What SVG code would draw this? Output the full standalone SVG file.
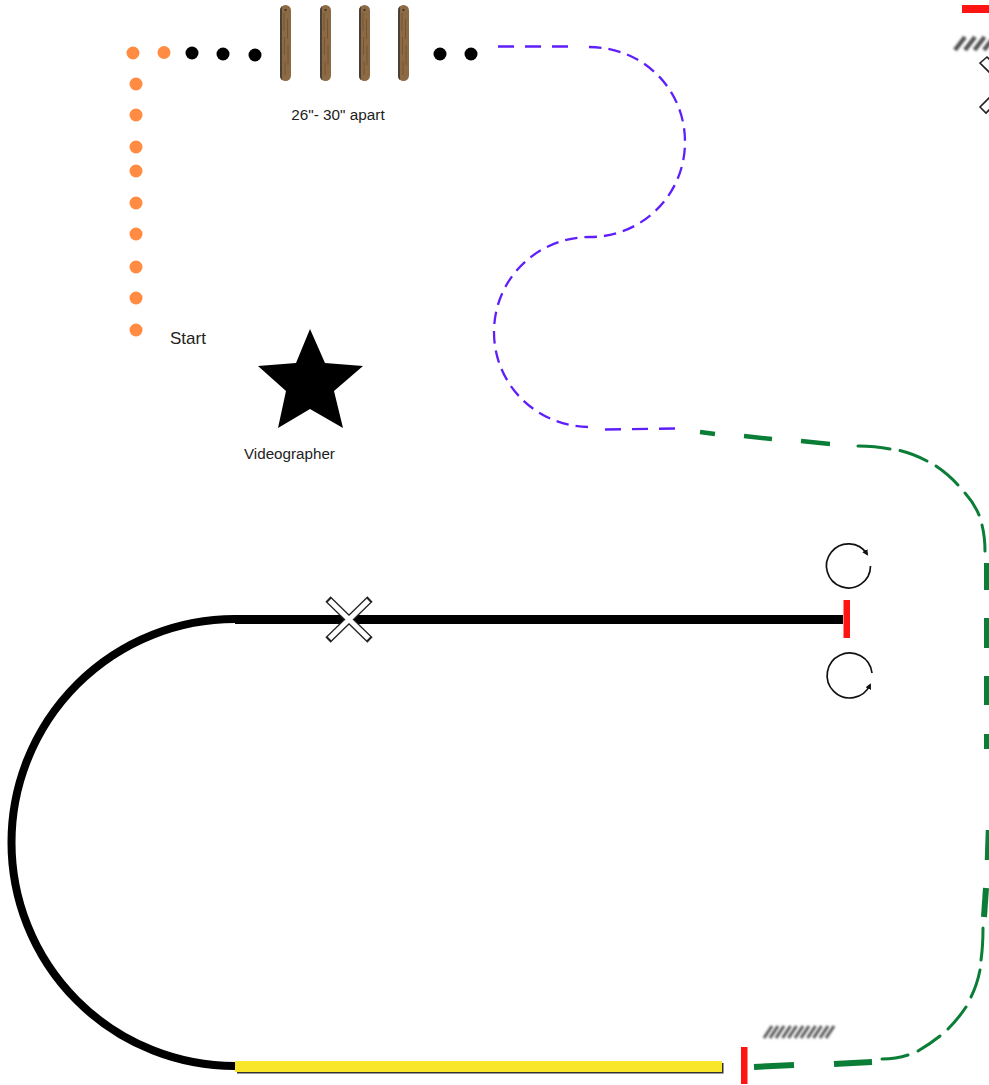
<svg xmlns="http://www.w3.org/2000/svg" width="989" height="1085" viewBox="0 0 989 1085">
<style>
.o{fill:#ff8c42}
.k{fill:#000}
.t{font-family:"Liberation Sans",Arial,sans-serif;fill:#222}
.pl{fill:none;stroke:#5f1ffa;stroke-width:2.300}
.g3{fill:none;stroke:#0a7d36;stroke-width:3;stroke-linecap:round}
.g4{fill:none;stroke:#0a7d36;stroke-width:4.500}
.g6{fill:none;stroke:#0a7d36;stroke-width:6}
.red{fill:#ff1414}
.hatch{stroke:#555;fill:none;filter:url(#soft)}
.rot{fill:none;stroke:#111;stroke-width:1.700}
.xo{stroke:#222;stroke-width:7.500}
.xi{stroke:#fff;stroke-width:5}
.dia{fill:#fff;stroke:#222;stroke-width:1.600}
</style>
<defs>
<filter id="soft" x="-10%" y="-30%" width="120%" height="160%"><feGaussianBlur stdDeviation="0.9"/></filter>
<marker id="ah" markerWidth="7" markerHeight="7" refX="4" refY="3" orient="auto" markerUnits="userSpaceOnUse"><path d="M0 0L6 3L0 6Z" fill="#111"/></marker>
<g id="post">
<rect x="0" y="0" width="11" height="76" rx="5.500" fill="#8c6a43"/>
<path d="M0 5.500A5.500 5.500 0 0 1 2 1.200V75.200A5.500 5.500 0 0 1 0 70.500Z" fill="#4a4038"/>
<path d="M4 8V26M7.500 14V34M4.500 32V50M8 40V60M5 56V70" stroke="#6e5233" stroke-width="0.800" fill="none"/>
<circle cx="5.500" cy="5" r="1" fill="#2a2a2a"/>
</g>
</defs>
<rect width="989" height="1085" fill="#fff"/>

<g id="connectors">
<g id="purple-path">
<path class="pl" d="M498 46.500H568" stroke-dasharray="16 11"/>
<path class="pl" d="M589 47C642 47 685 88 685 142C685 195 642 237 590 237C537 237 494 279 494 332C494 385 537 427 590 427" stroke-dasharray="12.500 7"/>
<path class="pl" d="M605 429.500L675 428.500" stroke-dasharray="16 11"/>
</g>
<g id="green-path">
<path class="g4" d="M700 432L715 434"/>
<path class="g4" d="M744 436L772 439"/>
<path class="g4" d="M801 441L830 444"/>
<path class="g3" d="M858 446Q875 446 890 449"/>
<path class="g3" d="M900 450.500Q914 454 927 461"/>
<path class="g3" d="M936 466Q948 474 958 485"/>
<path class="g3" d="M965 493Q974 503 979 515"/>
<path class="g3" d="M982 525Q985 537 985 551"/>
<path class="g6" d="M987 563V590"/>
<path class="g6" d="M987 618V648"/>
<path class="g6" d="M987 676V705"/>
<path class="g6" d="M987 734V749"/>
<path class="g4" d="M988 830L987 860"/>
<path class="g6" d="M986 888L984 917"/>
<path class="g3" d="M983 928Q983 946 981 960"/>
<path class="g3" d="M980 970Q977 985 971 997"/>
<path class="g3" d="M966 1007Q958 1019 948 1029"/>
<path class="g3" d="M940 1036Q930 1044 918 1051"/>
<path class="g3" d="M908 1055Q896 1059 882 1059"/>
<path class="g6" d="M754 1067L794 1065"/>
<path class="g6" d="M834 1064L872 1062"/>
</g>
<g id="track">
<path d="M235 619A223.500 223.500 0 0 0 235 1066" fill="none" stroke="#000" stroke-width="8"/>
<rect x="235" y="615" width="608" height="9" class="k"/>
<rect x="237" y="1063" width="486.500" height="10.500" fill="#333"/>
<rect x="235" y="1061" width="487" height="11" fill="#f9e52a"/>
</g>
</g>

<g id="orange-dots" class="o">
<circle cx="133" cy="53" r="6.500"/><circle cx="164" cy="52.500" r="6.500"/>
<circle cx="136" cy="84" r="6.500"/><circle cx="136" cy="115" r="6.500"/><circle cx="136" cy="147" r="6.500"/><circle cx="136" cy="171" r="6.500"/><circle cx="136" cy="203" r="6.500"/><circle cx="136" cy="234" r="6.500"/><circle cx="136" cy="267" r="6.500"/><circle cx="136" cy="298" r="6.500"/><circle cx="136" cy="330" r="6.500"/>
</g>
<g id="black-dots" class="k">
<circle cx="192" cy="53" r="6.500"/><circle cx="223" cy="54" r="6.500"/><circle cx="255" cy="55" r="6.500"/><circle cx="440" cy="54" r="6.500"/><circle cx="471" cy="54" r="6.500"/>
</g>
<g id="posts">
<use href="#post" x="280" y="5"/><use href="#post" x="320" y="5"/><use href="#post" x="359" y="5"/><use href="#post" x="398" y="5"/>
</g>
<g id="label-apart"><text class="t" x="338" y="120" font-size="15.300" text-anchor="middle">26"- 30" apart</text></g>
<g id="label-start"><text class="t" x="170" y="344" font-size="17">Start</text></g>
<g id="videographer">
<polygon class="k" points="310,329 325,363 363,366 334,391 343,428 310,409 278,428 286,391 258,366 296,363"/>
<text class="t" x="244" y="459" font-size="15.200">Videographer</text>
</g>

<g id="cross">
<path class="xo" d="M328 599L370 640M370 599L328 640"/>
<path class="xi" d="M329.500 600.500L368.500 638.500M368.500 600.500L329.500 638.500"/>
</g>
<g id="end-gate">
<rect class="red" x="843.500" y="600" width="6.500" height="38"/>
<path class="rot" d="M870.500 566A22 22 0 1 1 867 554" marker-end="url(#ah)"/>
<path class="rot" d="M872 673A22.500 22.500 0 1 0 870 685" marker-end="url(#ah)"/>
</g>
<g id="bottom-gate">
<rect class="red" x="741" y="1047" width="6.500" height="37"/>
<path class="hatch" stroke-width="3" d="M764 1038L772 1026M770 1038L778 1026M776 1038L784 1026M782.500 1038L790.500 1026M788.500 1038L796.500 1026M795 1038L803 1026M801 1038L809 1026M807.500 1038L815.500 1026M813.500 1038L821.500 1026M820 1038L828 1026M826 1038L834 1026"/>
</g>
<g id="top-right-gate">
<rect class="red" x="962" y="5" width="27" height="8"/>
<path class="hatch" stroke-width="4.500" d="M955 50L965 37M965 50L975 37M974.500 50L984.500 37M984 50L994 37"/>
<polygon class="dia" points="987,57 980,63 995,78 1002,72"/>
<polygon class="dia" points="980,107 986,113 1002,97 996,91"/>
</g>
</svg>
